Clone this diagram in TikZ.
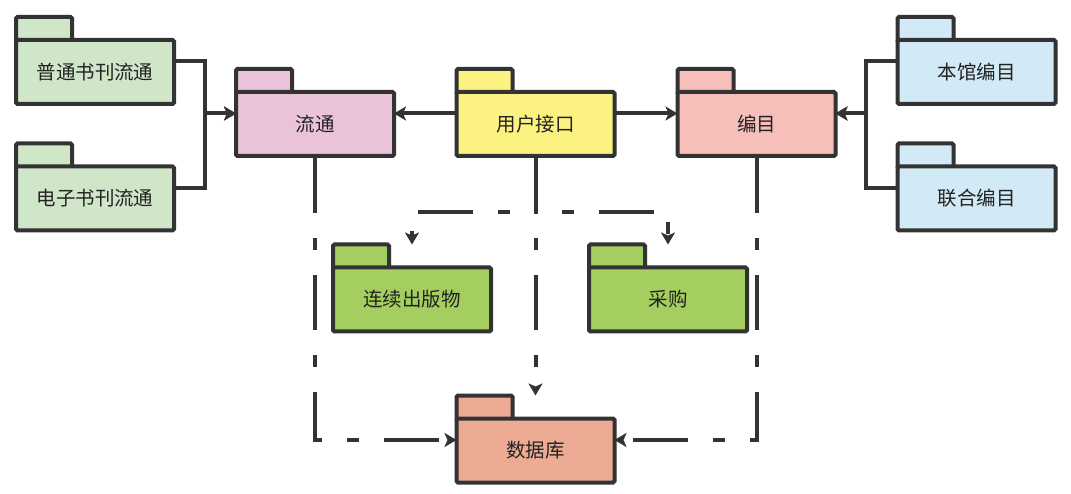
\documentclass[tikz,border=0pt]{standalone}
\usepackage{fontspec}
\newfontfamily\cjk{Noto Sans CJK SC}
\usetikzlibrary{arrows.meta}
\definecolor{ink}{HTML}{333333}
\definecolor{txt}{HTML}{222222}
\definecolor{pkggreen}{HTML}{CFE6C9}
\definecolor{pkgpink}{HTML}{EAC3DB}
\definecolor{pkgyellow}{HTML}{FCF281}
\definecolor{pkgsalmon}{HTML}{F6BFBA}
\definecolor{pkgblue}{HTML}{D1EAF5}
\definecolor{pkgleaf}{HTML}{A4CF60}
\definecolor{pkgcoral}{HTML}{EDAB94}
\tikzset{
  pkgframe/.style={minimum width=158pt, minimum height=89pt, inner sep=0pt, outer sep=0pt},
  pkgline/.style={draw=ink, line width=4pt, rounded corners=1.5pt},
  pkgbody/.style={pkgline, minimum width=158pt, minimum height=64pt, inner sep=0pt,
    anchor=south, font=\cjk\fontsize{19.5}{22}\selectfont, text=txt},
  tip/.style={-{Stealth[length=12pt,width=14pt,inset=3pt]}},
  link/.style={draw=ink, line width=4pt, tip},
  dashlink/.style={link, dash pattern=on 55pt off 25pt on 12pt off 25pt}
}
% package symbol: name, centre x, centre y, fill, label
\newcommand\umlpkg[5]{%
  \node[pkgframe] (#1) at (#2,#3) {};
  \draw[pkgline, fill=#4] (#1.north west) rectangle ++(56,25);
  \node[pkgbody, fill=#4] (#1-body) at (#1.south) {\raisebox{-2pt}{#5}};
}
\begin{document}
\begin{tikzpicture}[x=1pt, y=-1pt]
\useasboundingbox (0,0) rectangle (1071,494);

\umlpkg{pt}{95}{61.5}{pkggreen}{普通书刊流通}
\umlpkg{dz}{95}{188}{pkggreen}{电子书刊流通}
\umlpkg{lt}{315}{113.5}{pkgpink}{流通}
\umlpkg{yh}{535.5}{113.5}{pkgyellow}{用户接口}
\umlpkg{bm}{756.5}{113.5}{pkgsalmon}{编目}
\umlpkg{bg}{976.5}{61.5}{pkgblue}{本馆编目}
\umlpkg{lh}{976.5}{188}{pkgblue}{联合编目}
\umlpkg{lx}{412}{289}{pkgleaf}{连续出版物}
\umlpkg{cg}{668}{289}{pkgleaf}{采购}
\umlpkg{sj}{535.5}{440}{pkgcoral}{数据库}

% elbow junctions
\coordinate (jl) at (205,113.5);
\coordinate (jr) at (866,113.5);

% solid dependencies
\draw[link] (pt.east) -| (jl) -- (lt.west);
\draw[link] (dz.east) -| (jl) -- (lt.west);
\draw[link] (bg.west) -| (jr) -- (bm.east);
\draw[link] (lh.west) -| (jr) -- (bm.east);
\draw[link] (yh.west) -- (lt.east);
\draw[link] (yh.east) -- (bm.west);

% dashed dependencies
\draw[dashlink] (yh.south) -- ++(0,54) -| (lx.north);
\draw[dashlink] (yh.south) -- ++(0,54) -| (cg.north);
\draw[dashlink] (yh.south) -- (sj.north);
\draw[dashlink] (lt.south) |- (sj.west);
\draw[dashlink] (bm.south) |- (sj.east);
\end{tikzpicture}
\end{document}
